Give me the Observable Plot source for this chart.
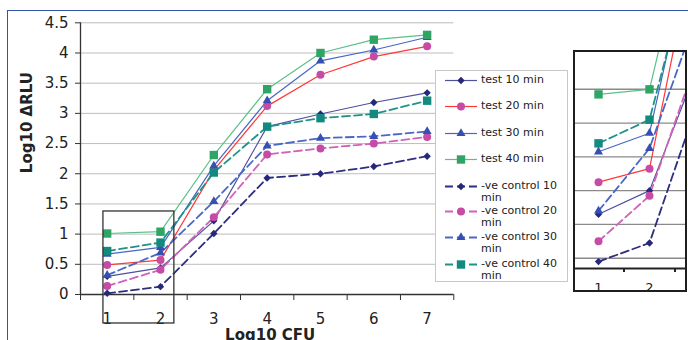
<!DOCTYPE html>
<html><head><meta charset="utf-8">
<script src="https://cdn.jsdelivr.net/npm/d3@7"></script>
<script src="https://cdn.jsdelivr.net/npm/@observablehq/plot@0.6"></script>
<style>
body{margin:0;background:#fff;overflow:hidden}
#wrap{position:relative;width:688px;height:340px;overflow:hidden;font-family:"DejaVu Sans",sans-serif;background:#fff}
#frame{position:absolute;left:7px;top:10px;width:900px;height:600px;border-left:1.6px solid #3552a6;border-top:1.6px solid #3552a6}
#main{position:absolute;left:0;top:0}
#legend{position:absolute;left:435px;top:70px;width:131px;height:210px;border:1px solid #c8c8c8;background:#fff}
.item{position:absolute;left:0;width:131px}
.item svg{position:absolute;left:0;top:0}
.item span{position:absolute;left:45px;top:1.5px;width:84px;font-size:11px;line-height:12px;color:#222;white-space:normal}
#inset{position:absolute;left:573px;top:50px;width:110px;height:238px;border:2px solid #1e1e1e;background:#fff;overflow:hidden}
</style></head><body><div id="wrap"><div id="frame"></div></div>
<script>
// ---- data ----
const cfu = [1, 2, 3, 4, 5, 6, 7];
const test10 = [0.30, 0.44, 1.22, 2.78, 2.99, 3.18, 3.34];
const test20 = [0.49, 0.57, 2.06, 3.12, 3.64, 3.94, 4.11];
const test30 = [0.67, 0.78, 2.13, 3.21, 3.87, 4.05, 4.26];
const test40 = [1.01, 1.04, 2.31, 3.40, 4.00, 4.22, 4.30];
const ctrl10 = [0.02, 0.13, 1.01, 1.93, 2.00, 2.12, 2.29];
const ctrl20 = [0.14, 0.41, 1.28, 2.32, 2.42, 2.50, 2.61];
const ctrl30 = [0.32, 0.69, 1.54, 2.46, 2.59, 2.62, 2.70];
const ctrl40 = [0.72, 0.86, 2.02, 2.78, 2.92, 2.99, 3.21];
const seriesNames = ["test 10 min", "test 20 min", "test 30 min", "test 40 min",
  "-ve control 10 min", "-ve control 20 min", "-ve control 30 min", "-ve control 40 min"];
const seriesValues = [test10, test20, test30, test40, ctrl10, ctrl20, ctrl30, ctrl40];
const yTicks = [0, 0.5, 1, 1.5, 2, 2.5, 3, 3.5, 4, 4.5];
const xTickLabels = [1, 2, 3, 4, 5, 6, 7];
const xTickEdges = [0.5, 1.5, 2.5, 3.5, 4.5, 5.5, 6.5, 7.5];
const zoomBox = [{x1: 0.93, x2: 2.26, y1: -0.48, y2: 1.375}];
const insetXDomain = [0.549, 2.706];
const insetYDomain = [-0.021, 1.258];
const insetGrid = [0.04, 0.24, 0.44, 0.64, 0.84, 1.04];
const insetTickEdges = [1.5, 2.5];
const insetTickLabels = [1, 2];

// ---- styles ----
const lineColors = ["#50509e", "#ff3838", "#4667c4", "#5cbf8a", "#2d2d82", "#d063b8", "#4a68c6", "#1f9486"];
const markColors = ["#26287a", "#c64ba6", "#3550b2", "#2fa464", "#26287a", "#c64ba6", "#3550b2", "#138a7f"];
const widths = [1.2, 1.2, 1.2, 1.2, 1.8, 1.8, 1.8, 1.8];
const dashes = [null, null, null, null, "8,4", "8,4", "8,4", "8,4"];
const rad = r => Math.sqrt(r / Math.PI);
const symDiamond = {draw(c, s) { const r = rad(s); c.moveTo(0, -r); c.lineTo(r, 0); c.lineTo(0, r); c.lineTo(-r, 0); c.closePath(); }};
const symSquare = {draw(c, s) { const r = rad(s); c.moveTo(-r, -r); c.lineTo(r, -r); c.lineTo(r, r); c.lineTo(-r, r); c.closePath(); }};
const symTri = {draw(c, s) { const r = rad(s); c.moveTo(0, -1.155 * r); c.lineTo(r, 0.577 * r); c.lineTo(-r, 0.577 * r); c.closePath(); }};
const symCircle = {draw(c, s) { const r = rad(s); c.moveTo(r, 0); c.arc(0, 0, r, 0, 2 * Math.PI); }};
const symbols = [symDiamond, symCircle, symTri, symSquare, symDiamond, symCircle, symTri, symSquare];
const sizes = [3.7, 4, 4.5, 4.2, 3.7, 4, 4.5, 4.2];

const rows = seriesNames.map((name, i) => cfu.map((c, j) => ({series: name, cfu: c, value: seriesValues[i][j]})));

function seriesMarks(clip) {
  const out = [];
  rows.forEach((d, i) => {
    out.push(Plot.line(d, {x: "cfu", y: "value", stroke: lineColors[i], strokeWidth: widths[i], strokeDasharray: dashes[i], clip}));
  });
  rows.forEach((d, i) => {
    out.push(Plot.dot(d, {x: "cfu", y: "value", symbol: symbols[i], r: sizes[i], fill: markColors[i], stroke: "none", clip}));
  });
  return out;
}

const main = Plot.plot({
  width: 688, height: 340,
  marginLeft: 80, marginRight: 234.7, marginTop: 22.3, marginBottom: 46,
  style: {fontFamily: "DejaVu Sans, sans-serif", background: "transparent", color: "#222", overflow: "visible"},
  x: {domain: [0.5, 7.5]},
  y: {domain: [0, 4.5]},
  marks: [
    Plot.gridY(yTicks, {stroke: "#bdbdbd", strokeOpacity: 1, strokeWidth: 1}),
    Plot.ruleY([0], {stroke: "#333", strokeWidth: 1.3}),
    Plot.ruleX([0.5], {stroke: "#333", strokeWidth: 1.3}),
    Plot.axisY({ticks: yTicks, tickSize: 5, tickPadding: 7, tickFormat: d => String(d), fontSize: 15, label: null, stroke: "#333"}),
    Plot.axisX({ticks: xTickEdges, tickSize: 6, tickFormat: () => "", label: null, stroke: "#333"}),
    Plot.axisX({ticks: xTickLabels, tickSize: 0, tickPadding: 18.5, tickFormat: d => String(d), fontSize: 15, label: null}),
    ...seriesMarks(false),
    Plot.rect(zoomBox, {x1: "x1", x2: "x2", y1: "y1", y2: "y2", fill: "none", stroke: "#333", strokeWidth: 1.3}),
    Plot.text(["Log10 CFU"], {text: d => d, frameAnchor: "bottom", lineAnchor: "middle", dy: 41, dx: 3, fontWeight: "bold", fontSize: 15}),
    Plot.text(["Log10 \u0394RLU"], {text: d => d, frameAnchor: "left", lineAnchor: "middle", rotate: -90, dx: -53, dy: 14.5, fontWeight: "bold", fontSize: 15})
  ]
});
main.id = "main";
const wrap = document.getElementById("wrap");
wrap.appendChild(main);

// ---- legend ----
const legend = document.createElement("div");
legend.id = "legend";
const itemCenters = [9, 35, 62, 88, 115, 140, 166, 193];
seriesNames.forEach((name, i) => {
  const it = document.createElement("div");
  it.className = "item";
  it.style.top = (itemCenters[i] - 7.5) + "px";
  const svg = d3.create("svg").attr("width", 44).attr("height", 15);
  svg.append("line").attr("x1", 9).attr("x2", 41).attr("y1", 7.5).attr("y2", 7.5)
    .attr("stroke", lineColors[i]).attr("stroke-width", widths[i]).attr("stroke-dasharray", dashes[i]);
  svg.append("path").attr("transform", "translate(25,7.5)")
    .attr("d", d3.symbol(symbols[i], Math.PI * sizes[i] * sizes[i])()).attr("fill", markColors[i]);
  it.appendChild(svg.node());
  const sp = document.createElement("span");
  sp.textContent = name;
  it.appendChild(sp);
  legend.appendChild(it);
});
wrap.appendChild(legend);

// ---- inset ----
const insetDiv = document.createElement("div");
insetDiv.id = "inset";
const inset = Plot.plot({
  width: 110, height: 238,
  marginLeft: 0, marginRight: 0, marginTop: 0, marginBottom: 22,
  style: {fontFamily: "DejaVu Sans, sans-serif", background: "transparent", color: "#222"},
  x: {domain: insetXDomain},
  y: {domain: insetYDomain, axis: null},
  marks: [
    Plot.gridY(insetGrid, {stroke: "#8a8a8a", strokeOpacity: 1, strokeWidth: 1.4}),
    ...seriesMarks(true),
    Plot.ruleY([insetYDomain[0]], {stroke: "#222", strokeWidth: 2}),
    Plot.axisX({ticks: insetTickEdges, tickSize: 4, tickFormat: () => "", label: null, stroke: "#222", strokeWidth: 2}),
    Plot.axisX({ticks: insetTickLabels, tickSize: 0, tickPadding: 14, tickFormat: d => String(d), fontSize: 13, label: null})
  ]
});
insetDiv.appendChild(inset);
wrap.appendChild(insetDiv);
</script></body></html>
